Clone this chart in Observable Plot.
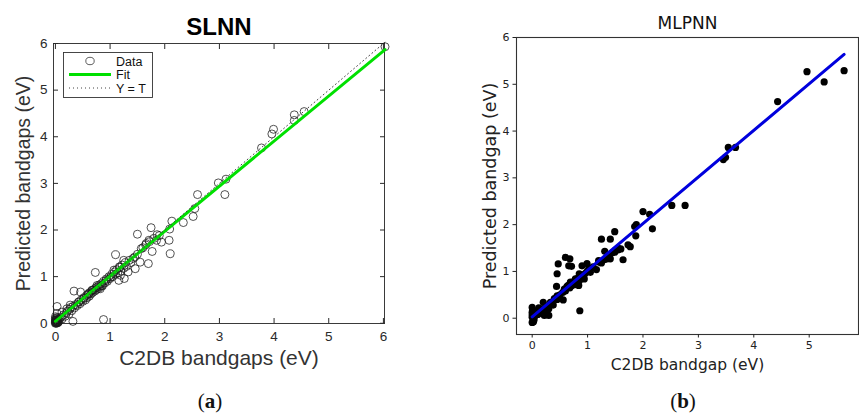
<!DOCTYPE html>
<html>
<head>
<meta charset="utf-8">
<script src="https://cdn.jsdelivr.net/npm/d3@7"></script>
<script src="https://cdn.jsdelivr.net/npm/@observablehq/plot@0.6"></script>
<style>
  body { margin: 0; background: #fff; }
  #wrap { position: relative; width: 859px; height: 414px; overflow: hidden; background: #fff; }
  .panel { position: absolute; top: 0; }
  .cap { position: absolute; font-family: "Liberation Serif", "DejaVu Serif", serif; font-size: 21px; color: #111; transform: translate(-50%, -50%); white-space: nowrap; }
  .legend { position: absolute; left: 63px; top: 52px; }
</style>
</head>
<body>
<div id="wrap"></div>
<script>
// ---------- Data: panel (a) SLNN ----------
const slnnX = [6.03,4.55,4.37,4.37,3.99,3.96,3.77,3.12,2.98,3.10,2.60,2.55,2.52,2.34,2.13,2.09,2.08,2.10,1.75,1.86,1.94,1.77,1.71,1.70,1.50,1.57,1.66,1.55,1.46,1.42,1.33,1.26,1.25,1.17,1.10,1.16,1.19,1.07,1.01,0.93,0.85,0.82,0.73,0.76,0.67,0.61,0.88,0.46,0.34,0.52,0.43,0.27,0.21,0.12,0.03,0.03,0.32,0.03,0.02,
  0,0.01,0,0.02,0.01,0,0.03,0.02,0,0.04,0.05,0,0.01,0.03,0.06,0.02,0,0.04,
  0.05,0.08,0.10,0.12,0.15,0.18,0.20,0.22,0.25,0.26,0.28,0.30,0.32,0.35,0.37,0.40,0.42,0.45,0.47,0.50,0.52,0.55,0.57,0.58,0.60,0.62,0.63,0.65,0.67,0.68,0.70,0.72,0.74,0.75,0.77,0.79,0.80,0.82,0.84,0.86,0.88,0.90,0.93,0.95,0.98,1.00,1.03,1.05,1.08,1.10,1.12,1.14,1.18,1.20,1.22,1.25,1.28,1.30,1.35,1.38,1.45,1.50,1.60,1.65,1.72,1.80,1.85,1.90];
const slnnY = [5.93,4.54,4.47,4.35,4.16,4.06,3.76,3.09,3.01,2.76,2.76,2.46,2.29,2.16,2.19,2.02,1.78,1.49,2.05,1.90,1.74,1.54,1.78,1.28,1.91,1.60,1.71,1.31,1.17,1.39,1.10,0.96,1.35,1.21,1.47,0.92,1.03,1.14,0.99,0.92,0.81,0.74,1.09,0.81,0.71,0.64,0.08,0.67,0.69,0.53,0.46,0.39,0.31,0.24,0.36,0.21,0.04,0.06,0.03,
  0,0.01,0.02,0,0.04,0.07,0.02,0.10,0.14,0.05,0.02,0.10,0.06,0.08,0.04,0.12,0.03,0.01,
  0.08,0.10,0.13,0.09,0.18,0.15,0.22,0.26,0.20,0.30,0.34,0.27,0.36,0.33,0.40,0.38,0.45,0.42,0.50,0.47,0.55,0.50,0.60,0.55,0.62,0.58,0.66,0.63,0.70,0.66,0.72,0.69,0.76,0.72,0.78,0.75,0.82,0.79,0.85,0.80,0.90,0.86,0.95,0.90,1.00,0.96,1.05,1.00,1.10,1.05,1.15,1.08,1.20,1.12,1.25,1.18,1.30,1.22,1.35,1.30,1.42,1.48,1.62,1.68,1.75,1.82,1.78,1.88];
const fitAX = [0, 6.03];
const fitAY = [0.04, 5.87];
const identX = [0, 6.03];
const identY = [0, 6.03];

// ---------- Data: panel (b) MLPNN ----------
const mlpX = [5.63,4.96,5.27,4.43,3.67,3.54,3.49,3.45,2.52,2.76,2.00,2.12,2.17,1.88,1.85,1.87,1.49,1.25,1.41,1.31,1.73,1.77,1.55,1.49,1.64,1.41,1.35,1.16,1.20,0.99,0.90,0.98,0.94,0.85,0.84,0.86,0.60,0.68,0.66,0.71,0.47,0.45,0.44,0.78,0.69,0.63,0.56,0.45,0.33,0.26,0.20,0.22,0.30,0.12,
  0,0,0,0,0.03,0.01,0.02,0,0.03,
  0.05,0.08,0.10,0.15,0.18,0.20,0.25,0.28,0.30,0.35,0.38,0.40,0.45,0.50,0.55,0.58,0.60,0.62,0.65,0.68,0.70,0.72,0.75,0.78,0.80,0.82,0.85,0.88,0.90,0.95,1.00,1.02,1.05,1.10,1.20,1.25,1.30,1.40,1.45,1.50,1.55,1.60];
const mlpY = [5.29,5.27,5.05,4.63,3.65,3.65,3.44,3.39,2.41,2.41,2.28,2.22,1.91,2.00,1.96,1.76,1.85,1.69,1.69,1.43,1.57,1.53,1.46,1.41,1.25,1.27,1.27,1.04,1.23,1.17,1.12,0.98,0.84,0.95,0.70,0.16,1.30,1.27,1.12,1.11,1.16,0.95,0.68,0.84,0.77,0.68,0.39,0.48,0.34,0.22,0.34,0.06,0.06,0.22,
  0.23,0.13,0.02,-0.09,-0.05,0.18,-0.08,0.07,-0.02,
  0.05,0.12,0.08,0.15,0.10,0.20,0.15,0.25,0.20,0.30,0.28,0.42,0.40,0.50,0.55,0.62,0.58,0.65,0.70,0.65,0.75,0.70,0.78,0.72,0.80,0.85,0.80,0.90,0.85,0.95,1.00,1.05,0.98,1.10,1.20,1.18,1.25,1.35,1.40,1.45,1.50,1.48];
const fitBX = [0, 5.63];
const fitBY = [0.03, 5.64];

// tick labels
const ticksA = [0, 1, 2, 3, 4, 5, 6];
const ticksBX = [0, 1, 2, 3, 4, 5];
const ticksBY = [0, 1, 2, 3, 4, 5, 6];

// ---------- Build tables ----------
const slnn = slnnX.map((x, i) => ({x, y: slnnY[i]}));
const fitA = fitAX.map((x, i) => ({x, y: fitAY[i]}));
const ident = identX.map((x, i) => ({x, y: identY[i]}));
const mlp = mlpX.map((x, i) => ({x, y: mlpY[i]}));
const fitB = fitBX.map((x, i) => ({x, y: fitBY[i]}));

const wrap = document.getElementById("wrap");
const lbl = {text: d => d, textAnchor: "middle", lineAnchor: "middle"};

// ---------- Panel (a) ----------
const plotA = Plot.plot({
  width: 430, height: 414,
  marginLeft: 53, marginRight: 46, marginTop: 43, marginBottom: 91,
  x: {domain: [-0.035, 6.02]},
  y: {domain: [-0.005, 6]},
  style: {fontFamily: "'Liberation Sans', Arial, sans-serif", background: "white", color: "#2a2a2a", overflow: "visible"},
  marks: [
    Plot.frame({stroke: "#262626", strokeWidth: 0.9}),
    Plot.axisX(ticksA, {anchor: "bottom", tickSize: -5, tickPadding: 13, fontSize: 13.5, label: null}),
    Plot.axisX(ticksA, {anchor: "top", tickSize: -5, tickFormat: () => "", label: null}),
    Plot.axisY(ticksA, {anchor: "left", tickSize: -5, tickPadding: 11, fontSize: 13.5, label: null}),
    Plot.axisY(ticksA, {anchor: "right", tickSize: -5, tickFormat: () => "", label: null}),
    Plot.dot(slnn, {x: "x", y: "y", r: 4, stroke: "#1a1a1a", strokeWidth: 0.75, fill: "none"}),
    Plot.line(fitA, {x: "x", y: "y", stroke: "#00e000", strokeWidth: 3}),
    Plot.line(ident, {x: "x", y: "y", stroke: "#444", strokeWidth: 1, strokeDasharray: "1,3"}),
    Plot.text(["SLNN"], {...lbl, frameAnchor: "top", dy: -16, fontSize: 24, fontWeight: "bold", fill: "#000"}),
    Plot.text(["C2DB bandgaps (eV)"], {...lbl, frameAnchor: "bottom", dy: 35, fontSize: 21, fill: "#333"}),
    Plot.text(["Predicted bandgaps (eV)"], {...lbl, frameAnchor: "left", dx: -30, rotate: -90, fontSize: 19.5, fill: "#333"})
  ]
});
plotA.classList.add("panel");
plotA.style.left = "0px";
wrap.appendChild(plotA);

// Legend (a)
const legend = document.createElement("div");
legend.className = "legend";
legend.innerHTML = `<svg width="90" height="46" style="font-family:'Liberation Sans',Arial,sans-serif;font-size:12.5px">
  <rect x="0.5" y="0.5" width="89" height="45" fill="white" stroke="#333" stroke-width="0.9"/>
  <ellipse cx="27" cy="9" rx="4.2" ry="3.7" fill="none" stroke="#1a1a1a" stroke-width="0.7"/>
  <text x="53" y="13.5" fill="#111">Data</text>
  <line x1="6" y1="22.5" x2="48" y2="22.5" stroke="#00e000" stroke-width="3"/>
  <text x="53" y="27" fill="#111">Fit</text>
  <line x1="6" y1="36" x2="48" y2="36" stroke="#444" stroke-width="1" stroke-dasharray="1,3"/>
  <text x="53" y="40.5" fill="#111">Y = T</text>
</svg>`;
wrap.appendChild(legend);

// ---------- Panel (b) ----------
const plotB = Plot.plot({
  width: 429, height: 414,
  marginLeft: 86, marginRight: 1, marginTop: 37, marginBottom: 80,
  x: {domain: [-0.283, 5.89]},
  y: {domain: [-0.348, 6]},
  style: {fontFamily: "'DejaVu Sans', sans-serif", background: "white", color: "#222", overflow: "visible"},
  marks: [
    Plot.frame({stroke: "#333", strokeWidth: 1.1}),
    Plot.axisX(ticksBX, {anchor: "bottom", tickSize: 3.5, tickPadding: 3.5, fontSize: 11, label: null}),
    Plot.axisY(ticksBY, {anchor: "left", tickSize: 3.5, tickPadding: 3.5, fontSize: 11, label: null}),
    Plot.dot(mlp, {x: "x", y: "y", r: 3.6, fill: "#000", stroke: "none"}),
    Plot.line(fitB, {x: "x", y: "y", stroke: "#0000dd", strokeWidth: 3}),
    Plot.text(["MLPNN"], {...lbl, frameAnchor: "top", dy: -14, fontSize: 17, fill: "#111"}),
    Plot.text(["C2DB bandgap (eV)"], {...lbl, frameAnchor: "bottom", dy: 31, fontSize: 15.5, fill: "#222"}),
    Plot.text(["Predicted bandgap (eV)"], {...lbl, frameAnchor: "left", dx: -26, rotate: -90, fontSize: 17.5, fill: "#222"})
  ]
});
plotB.classList.add("panel");
plotB.style.left = "430px";
wrap.appendChild(plotB);

// Captions
const capA = document.createElement("div");
capA.className = "cap"; capA.style.left = "210px"; capA.style.top = "401px";
capA.innerHTML = "(<b>a</b>)";
wrap.appendChild(capA);
const capB = document.createElement("div");
capB.className = "cap"; capB.style.left = "683px"; capB.style.top = "401px";
capB.innerHTML = "(<b>b</b>)";
wrap.appendChild(capB);
</script>
</body>
</html>
